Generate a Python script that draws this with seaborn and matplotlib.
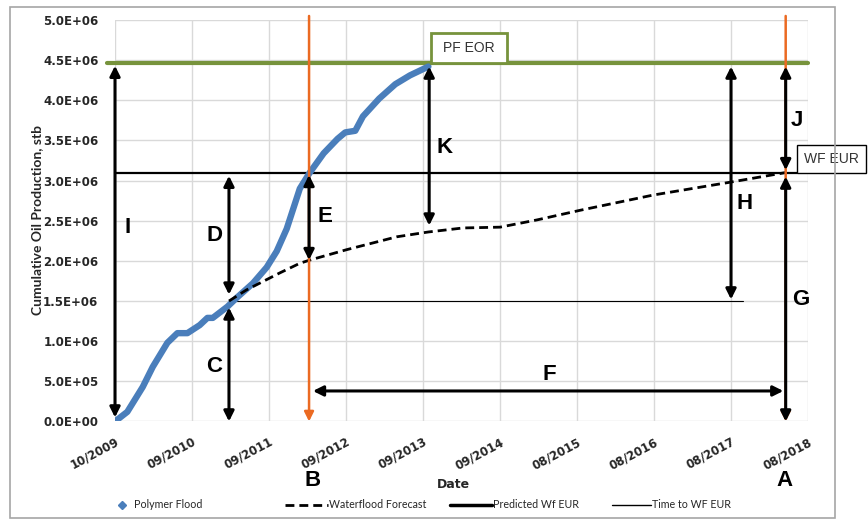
import matplotlib
matplotlib.use("Agg")
import matplotlib.pyplot as plt
from matplotlib.lines import Line2D
from matplotlib.patches import Rectangle
from matplotlib.ticker import FuncFormatter, MultipleLocator
import pandas as pd
import seaborn as sns

# ---- data -------------------------------------------------------------
# time axis: years after 10/2009, one tick per year
tick_labels = ["10/2009", "09/2010", "09/2011", "09/2012", "09/2013",
               "09/2014", "08/2015", "08/2016", "08/2017", "08/2018"]

# polymer flood cumulative oil (stb)
pf_t = [0.0, 0.16, 0.36, 0.49, 0.68, 0.81, 0.94, 1.10, 1.20, 1.27, 1.46,
        1.58, 1.79, 1.97, 2.10, 2.23, 2.40, 2.53, 2.71, 2.89, 2.99, 3.12,
        3.22, 3.43, 3.64, 3.83, 4.07]
pf_cum = [0.00e6, 0.12e6, 0.43e6, 0.68e6, 0.98e6, 1.10e6, 1.10e6, 1.20e6,
          1.29e6, 1.29e6, 1.43e6, 1.54e6, 1.72e6, 1.92e6, 2.12e6, 2.40e6,
          2.90e6, 3.10e6, 3.34e6, 3.52e6, 3.60e6, 3.62e6, 3.80e6, 4.02e6,
          4.20e6, 4.31e6, 4.42e6]

# waterflood forecast cumulative oil (stb)
wf_t = [1.48, 1.71, 2.14, 2.40, 2.53, 3.01, 3.66, 4.07, 4.52, 5.00, 5.48,
        6.04, 6.99, 7.99, 8.71]
wf_cum = [1.50e6, 1.64e6, 1.85e6, 1.97e6, 2.01e6, 2.14e6, 2.30e6, 2.36e6,
          2.41e6, 2.42e6, 2.51e6, 2.63e6, 2.82e6, 2.98e6, 3.10e6]

PF_EOR = 4.47e6          # polymer flood ultimate recovery
WF_EUR = 3.10e6          # predicted waterflood EUR
WF_AT_B = 2.01e6         # waterflood forecast at time B
BREAK = 1.50e6           # level where forecasts diverge
T_BREAK = 1.48           # time of divergence
T_B = 2.52               # time B
T_K = 4.08               # end of polymer flood history
T_H = 8.00
T_A = 8.71               # time A (waterflood reaches EUR)
K_LOW = 2.44e6
F_LEVEL = 0.38e6

pf = pd.DataFrame({"t": pf_t, "cum": pf_cum})
wf = pd.DataFrame({"t": wf_t, "cum": wf_cum})

# ---- style ------------------------------------------------------------
sns.set_theme(style="white")
plt.rcParams["font.family"] = ["Lato", "DejaVu Sans"]

BLUE = "#4A7EBB"
GREEN = "#77933C"
ORANGE = "#EB6A22"
GRID = "#D9D9D9"
TXT = "#262626"
BOLD = ["DejaVu Sans"]
ARIAL = ["Liberation Sans", "DejaVu Sans"]
LETTER = dict(family=ARIAL, fontsize=16, fontweight="bold", color="black",
              ha="center", va="center")

fig = plt.figure(figsize=(8.68, 5.19), dpi=100)
ax = fig.add_axes([0.1325, 0.1879, 0.7984, 0.7736])

# outer frame of the chart area
fig.patches.append(Rectangle((10 / 868, 1 / 519), 825 / 868, 511 / 519,
                             transform=fig.transFigure, fill=False,
                             edgecolor="#A6A6A6", lw=1.2))

ax.set_xlim(0, 9)
ax.set_ylim(0, 5.0e6)
ax.yaxis.set_major_locator(MultipleLocator(0.5e6))
ax.set_xticks(range(len(tick_labels)))
ax.set_xticklabels(tick_labels, rotation=28, ha="right",
                   rotation_mode="anchor", fontsize=8.5, fontweight="bold",
                   family=BOLD, color=TXT)
ax.yaxis.set_major_formatter(FuncFormatter(lambda v, p: f"{v:.1E}"))
ax.tick_params(axis="y", labelsize=8.5, labelcolor=TXT, length=0, pad=12)
ax.tick_params(axis="x", length=3, color=GRID, width=1, pad=7)
for lab in ax.get_yticklabels():
    lab.set_fontweight("bold")
    lab.set_family(BOLD)
ax.grid(True, color=GRID, lw=1)
ax.set_axisbelow(True)
for s in ax.spines.values():
    s.set_visible(False)

# ---- reference levels -------------------------------------------------
ax.plot([-0.1, 9.0], [PF_EOR, PF_EOR], color=GREEN, lw=3, clip_on=False,
        zorder=3)
ax.plot([0, 8.86], [WF_EUR, WF_EUR], color="black", lw=1.6, zorder=3,
        clip_on=False)
ax.plot([T_BREAK, 8.16], [BREAK, BREAK], color="black", lw=0.8, zorder=3)

# ---- series -----------------------------------------------------------
sns.lineplot(data=pf, x="t", y="cum", ax=ax, color=BLUE, lw=4.6,
             solid_capstyle="round", legend=False, zorder=4)
sns.lineplot(data=wf, x="t", y="cum", ax=ax, color="black", lw=2,
             linestyle=(0, (3.2, 1.8)), legend=False, zorder=4)

# ---- timing lines -----------------------------------------------------
for t in (T_B, T_A):
    ax.annotate("", xy=(t, 0), xytext=(t, 5.05e6), annotation_clip=False,
                arrowprops=dict(arrowstyle="-|>", color=ORANGE, lw=1.8,
                                mutation_scale=14, shrinkA=0, shrinkB=0),
                zorder=5)


def arrow(x0, y0, x1, y1, style="<|-|>"):
    ax.annotate("", xy=(x1, y1), xytext=(x0, y0), annotation_clip=False,
                arrowprops=dict(arrowstyle=style, color="black", lw=2.2,
                                mutation_scale=15, shrinkA=0, shrinkB=0),
                zorder=6)


arrow(0.0, 0.05e6, 0.0, 4.43e6)           # I
arrow(T_BREAK, 1.58e6, T_BREAK, 3.06e6)   # D
arrow(T_BREAK, 0.0, T_BREAK, 1.42e6)      # C
arrow(T_B, WF_AT_B, T_B, 3.07e6)          # E
arrow(T_K, K_LOW, T_K, 4.42e6)            # K
arrow(T_H, 1.52e6, T_H, 4.42e6)           # H
arrow(T_A, 3.13e6, T_A, 4.42e6)           # J
arrow(T_A, 0.0, T_A, 3.05e6)              # G
arrow(2.57, F_LEVEL, 8.68, F_LEVEL)       # F

letters = {"I": (0.16, 2.41e6), "D": (1.29, 2.32e6), "C": (1.29, 0.68e6),
           "E": (2.73, 2.55e6), "K": (4.28, 3.41e6), "H": (8.18, 2.72e6),
           "J": (8.86, 3.75e6), "G": (8.9, 1.525e6), "F": (5.64, 0.58e6)}
for k, (x, y) in letters.items():
    ax.text(x, y, k, **LETTER, zorder=7)

bt = ax.get_xaxis_transform()
ax.text(T_B + 0.04, -0.148, "B", transform=bt, clip_on=False, **LETTER)
ax.text(T_A - 0.01, -0.146, "A", transform=bt, clip_on=False, **LETTER)

# ---- labelled boxes ---------------------------------------------------
ax.add_patch(Rectangle((4.10, PF_EOR), 0.99, 0.37e6, facecolor="white",
                       edgecolor=GREEN, lw=2, clip_on=False, zorder=7))
ax.text(4.60, 4.655e6, "PF EOR", ha="center", va="center", fontsize=10,
        family=ARIAL, color="#333333", zorder=8, clip_on=False)
ax.add_patch(Rectangle((8.857, WF_EUR), 0.90, 0.345e6, facecolor="white",
                       edgecolor="black", lw=1, clip_on=False, zorder=7))
ax.text(9.31, 3.27e6, "WF EUR", ha="center", va="center", fontsize=10,
        family=ARIAL, color="#333333", zorder=8, clip_on=False)

# ---- axis titles ------------------------------------------------------
ax.set_xlabel("Date", fontsize=9, fontweight="bold", color=TXT, family=BOLD)
ax.xaxis.set_label_coords(0.488, -0.14)
ax.set_ylabel("Cumulative Oil Production, stb", fontsize=10,
              fontweight="bold", color=TXT)
ax.yaxis.set_label_coords(-0.104, 0.502)

# ---- legend: four equal-width slots ------------------------------------
entries = [
    (Line2D([], [], color=BLUE, marker="D", ls="none", ms=4),
     "Polymer Flood", 117, 1.0, 0.6),
    (Line2D([], [], color="black", lw=2, ls=(0, (3.2, 1.8))),
     "Waterflood Forecast", 285, 4.0, 0.1),
    (Line2D([], [], color="black", lw=2.5), "Predicted Wf EUR", 450, 3.9, 0.1),
    (Line2D([], [], color="black", lw=1), "Time to WF EUR", 612, 3.6, 0.1),
]
for h, name, x_px, hl, tp in entries:
    fig.legend([h], [name], loc="center left",
               bbox_to_anchor=(x_px / 868, 0.027), frameon=False,
               fontsize=7.7, handlelength=hl, handletextpad=tp,
               borderpad=0, borderaxespad=0, labelcolor=TXT)

fig.savefig("out.png", dpi=100)
